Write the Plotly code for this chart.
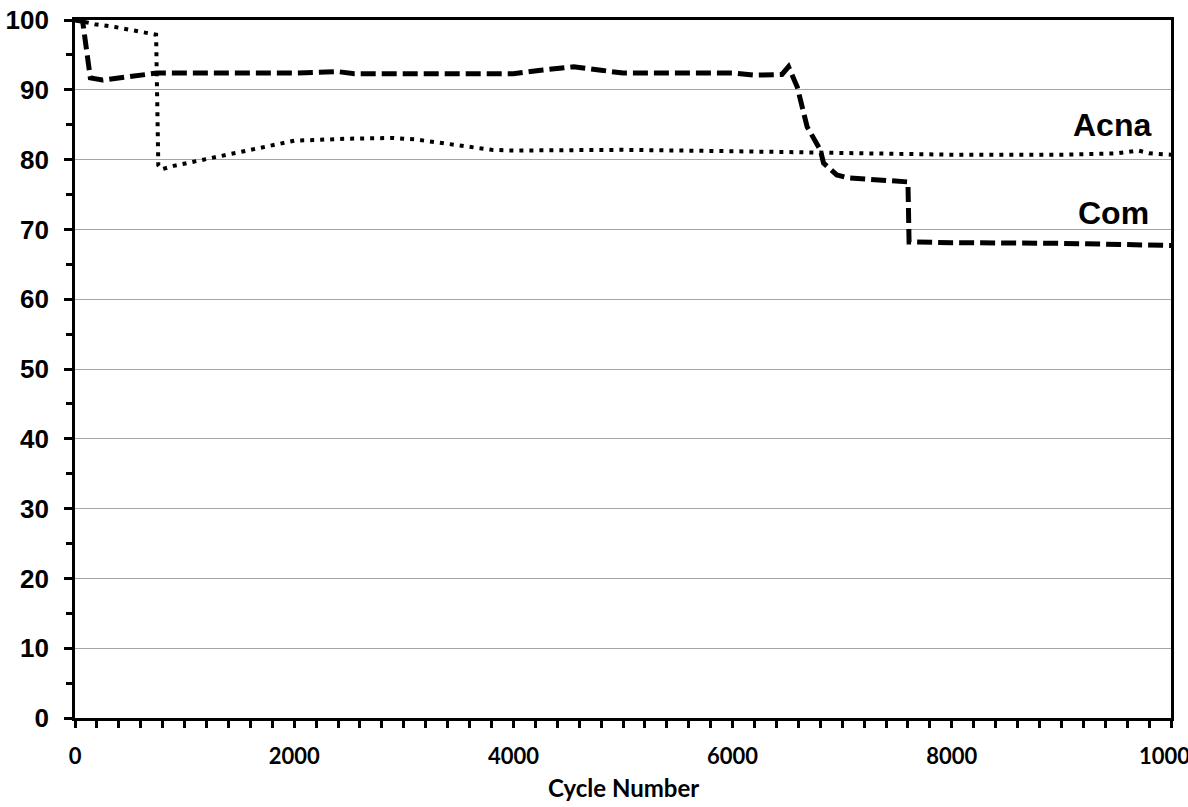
import plotly.graph_objects as go

# Capacity retention (%) versus cycle number for the two cells
com_cycles = [0, 70, 140, 250, 750, 1500, 2000, 2400, 2550, 3000, 3500, 4000, 4250, 4550,
              4800, 5000, 6000, 6200, 6450, 6510, 6590, 6680, 6800, 6830, 6950, 7050,
              7600, 7610, 8000, 9000, 10000]
com_retention = [100, 99.8, 91.7, 91.4, 92.4, 92.3, 92.4, 92.6, 92.3, 92.3, 92.3, 92.3, 92.8, 93.3,
                 92.8, 92.4, 92.4, 92.1, 92.2, 93.3, 90.4, 84.7, 81.4, 79.5, 77.8, 77.4,
                 76.8, 68.2, 68.1, 68.0, 67.7]

acna_cycles = [0, 180, 365, 640, 740, 760, 790, 900, 1200, 1600, 2000, 2500, 2900, 3100,
               3500, 3800, 4000, 5000, 6000, 6800, 7500, 8000, 9000, 9500, 9700, 9800, 10000]
acna_retention = [100, 99.4, 99.0, 98.2, 97.9, 79.2, 78.6, 79.1, 80.1, 81.5, 82.7, 83.0, 83.1, 82.9,
                  82.0, 81.4, 81.3, 81.4, 81.2, 81.0, 80.7, 80.7, 80.7, 80.9, 81.3, 80.9, 80.7]

x_ticks = [0, 2000, 4000, 6000, 8000, 10000]
y_ticks = [0, 10, 20, 30, 40, 50, 60, 70, 80, 90, 100]

fig = go.Figure()
fig.add_trace(go.Scatter(
    x=com_cycles, y=com_retention, mode="lines", name="Com",
    line=dict(color="black", width=5, dash="15px,6px"),
))
fig.add_trace(go.Scatter(
    x=acna_cycles, y=acna_retention, mode="lines", name="Acna",
    line=dict(color="black", width=4, dash="4px,6px"),
))

fig.add_annotation(text="<b>Acna</b>", x=0.984, y=0.85, xref="paper", yref="paper",
                   xanchor="right", yanchor="middle", showarrow=False,
                   font=dict(family="Liberation Sans, Arial", size=32, color="black"))
fig.add_annotation(text="<b>Com</b>", x=0.982, y=0.724, xref="paper", yref="paper",
                   xanchor="right", yanchor="middle", showarrow=False,
                   font=dict(family="Liberation Sans, Arial", size=32, color="black"))
fig.add_annotation(text="<b>Cycle Number</b>", x=0.5, y=-0.099, xref="paper", yref="paper",
                   xanchor="center", yanchor="middle", showarrow=False,
                   font=dict(family="Lato, Open Sans", size=24, color="black"))

fig.update_xaxes(
    range=[0, 10000], tickvals=x_ticks, ticktext=[str(v) for v in x_ticks],
    showline=True, linecolor="black", linewidth=2.7, mirror=True,
    ticks="outside", ticklen=7, tickwidth=2.5, tickcolor="black",
    minor=dict(dtick=200, ticks="outside", ticklen=7, tickwidth=2.5, tickcolor="black", showgrid=False),
    showgrid=False, zeroline=False, ticklabelstandoff=10, ticklabeloverflow="allow",
    automargin=False,
    tickfont=dict(family="Lato, Open Sans", size=22, color="black", weight="bold"),
)
fig.update_yaxes(
    range=[0, 100], tickvals=y_ticks,
    showline=True, linecolor="black", linewidth=2.7, mirror=True,
    ticks="outside", ticklen=8, tickwidth=2.5, tickcolor="black",
    minor=dict(dtick=5, ticks="outside", ticklen=6, tickwidth=2.5, tickcolor="black", showgrid=False),
    showgrid=True, gridcolor="#a6a6a6", gridwidth=1.3, zeroline=False, ticklabelstandoff=10,
    ticklabeloverflow="allow", automargin=False,
    tickfont=dict(family="Liberation Sans, Arial", size=26, color="black", weight="bold"),
)

fig.update_layout(
    width=1188, height=807,
    margin=dict(l=75, r=17, t=20, b=89),
    plot_bgcolor="white", paper_bgcolor="white",
    showlegend=False,
)

fig.write_html("out.html")
